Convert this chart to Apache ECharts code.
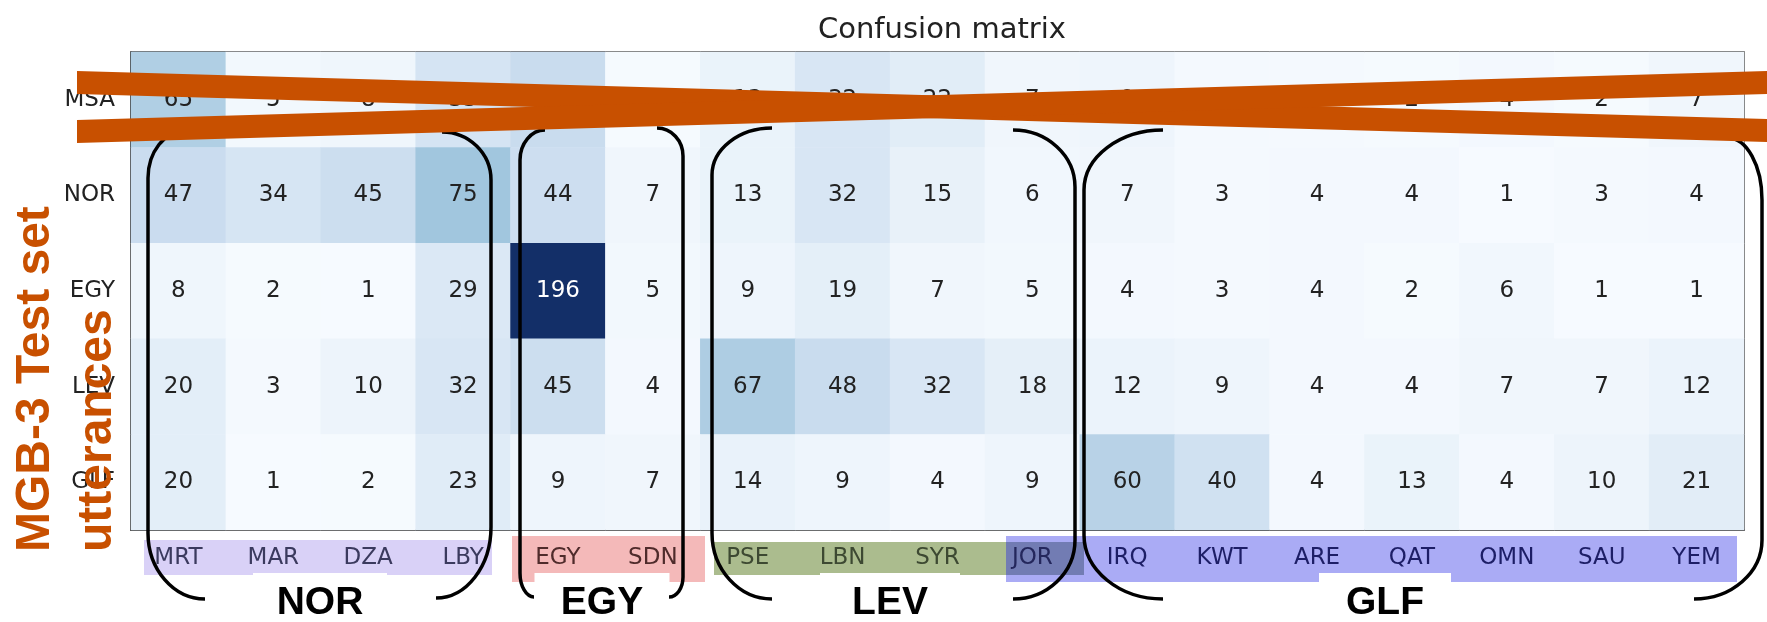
<!DOCTYPE html>
<html>
<head>
<meta charset="utf-8">
<script src="https://cdn.jsdelivr.net/npm/echarts@6/dist/echarts.min.js"></script>
<style>
  html, body { margin: 0; padding: 0; background: #fff; }
  #chart { width: 1767px; height: 622px; }
</style>
</head>
<body>
<div id="chart"></div>
<script>
// Predicted dialect (columns) and reference dialect (rows)
const predicted = ['MRT', 'MAR', 'DZA', 'LBY', 'EGY', 'SDN', 'PSE', 'LBN', 'SYR', 'JOR',
                   'IRQ', 'KWT', 'ARE', 'QAT', 'OMN', 'SAU', 'YEM'];
const actual = ['MSA', 'NOR', 'EGY', 'LEV', 'GLF'];

// Utterance counts per reference row
const rowMSA = [65, 5, 8, 35, 48, 2, 13, 32, 22, 7, 9, 3, 3, 2, 4, 2, 7];
const rowNOR = [47, 34, 45, 75, 44, 7, 13, 32, 15, 6, 7, 3, 4, 4, 1, 3, 4];
const rowEGY = [8, 2, 1, 29, 196, 5, 9, 19, 7, 5, 4, 3, 4, 2, 6, 1, 1];
const rowLEV = [20, 3, 10, 32, 45, 4, 67, 48, 32, 18, 12, 9, 4, 4, 7, 7, 12];
const rowGLF = [20, 1, 2, 23, 9, 7, 14, 9, 4, 9, 60, 40, 4, 13, 4, 10, 21];

// Region each predicted label belongs to (JOR sits where LEV and GLF overlap)
const labelRegion = ['nor', 'nor', 'nor', 'nor', 'egy', 'egy', 'lev', 'lev', 'lev', 'jor',
                     'glf', 'glf', 'glf', 'glf', 'glf', 'glf', 'glf'];
const regionNames = ['NOR', 'EGY', 'LEV', 'GLF'];
const titleText = 'Confusion matrix';
const axisTitleLines = ['MGB-3 Test set', 'utterances'];

const rows = [rowMSA, rowNOR, rowEGY, rowLEV, rowGLF];
const maxVal = Math.max(...rows.flat());
const cells = [];
rows.forEach((row, r) => {
  row.forEach((v, c) => {
    cells.push({
      value: [c, r, v],
      label: { color: v > maxVal / 2 ? '#ffffff' : '#222222' }
    });
  });
});

const chart = echarts.init(document.getElementById('chart'));

// Parenthesis-shaped outline: top end, vertical x, vertical span, bottom end
const K = 0.552;
const bracketStyle = { stroke: '#000', lineWidth: 3.5, fill: 'none' };
function bracketParts(top, xv, y1, y2, bot) {
  return [
    { type: 'bezierCurve', z: 50,
      shape: { x1: top[0], y1: top[1], x2: xv, y2: y1,
               cpx1: top[0] - K * (top[0] - xv), cpy1: top[1],
               cpx2: xv, cpy2: y1 - K * (y1 - top[1]) },
      style: bracketStyle },
    { type: 'line', z: 50, shape: { x1: xv, y1: y1, x2: xv, y2: y2 }, style: bracketStyle },
    { type: 'bezierCurve', z: 50,
      shape: { x1: xv, y1: y2, x2: bot[0], y2: bot[1],
               cpx1: xv, cpy1: y2 + K * (bot[1] - y2),
               cpx2: bot[0] - K * (bot[0] - xv), cpy2: bot[1] },
      style: bracketStyle }
  ];
}
const brackets = [
  [[185, 131], 148, 178, 533, [205, 599]],
  [[442, 132], 491, 180, 527, [436, 598]],
  [[545, 130], 520, 160, 573, [534, 597]],
  [[657, 128], 683, 156, 577, [669, 597]],
  [[772, 128], 712, 175, 533, [772, 599]],
  [[1013, 130], 1075, 187, 540, [1013, 599]],
  [[1163, 130], 1084, 190, 535, [1163, 599]],
  [[1728, 138], 1762, 200, 540, [1694, 599]]
];

const graphics = [];
// Coloured highlight strips behind the predicted labels
[
  [144, 540, 348, 35, '#d9d1f7'],
  [512, 536, 193, 46, '#f4b9b9'],
  [714, 542, 292, 33, '#abbc8e'],
  [1006, 536, 731, 46, '#aaabf5'],
  [1006, 542, 78, 33, '#727cb3']
].forEach(b => graphics.push({
  type: 'rect', z: -5,
  shape: { x: b[0], y: b[1], width: b[2], height: b[3] },
  style: { fill: b[4] }
}));
// Region names under the strips
[[320, 603, 134], [602, 603, 135], [890, 603, 140], [1385, 603, 132]].forEach((g, i) => {
  graphics.push({
    type: 'rect', z: 1,
    shape: { x: g[0] - g[2] / 2, y: 573, width: g[2], height: 49 },
    style: { fill: '#ffffff' }
  });
  graphics.push({
    type: 'text', z: 2, x: g[0], y: g[1],
    style: {
      text: regionNames[i], fill: '#000', font: 'bold 39px "Liberation Sans", Arial, sans-serif',
      textAlign: 'center', textVerticalAlign: 'middle'
    }
  });
});
brackets.forEach(b => graphics.push(...bracketParts(b[0], b[1], b[2], b[3], b[4])));
// Rotated vertical axis title
[[36, axisTitleLines[0]], [98, axisTitleLines[1]]].forEach(t => graphics.push({
  type: 'text', z: 60, x: t[0], y: 552, rotation: Math.PI / 2,
  style: {
    text: t[1], fill: '#c85000', font: 'bold 48px "Liberation Sans", Arial, sans-serif',
    textAlign: 'left', textVerticalAlign: 'middle'
  }
}));
// Strike-through cross over the MSA row
graphics.push({
  type: 'polygon', z: 100,
  shape: { points: [[77, 71], [1800, 120], [1800, 143], [77, 94]] },
  style: { fill: '#c85000' }
});
graphics.push({
  type: 'polygon', z: 100,
  shape: { points: [[77, 120], [1800, 70], [1800, 93], [77, 143]] },
  style: { fill: '#c85000' }
});

const richStyles = {};
const regionColors = { nor: '#3b3a5e', egy: '#4f2b2b', lev: '#3d4932', jor: '#24275c', glf: '#1d1e66' };
Object.keys(regionColors).forEach(k => {
  richStyles[k] = { color: regionColors[k], fontSize: 23, fontFamily: 'DejaVu Sans' };
});

chart.setOption({
  animation: false,
  backgroundColor: '#ffffff',
  title: {
    text: titleText,
    left: 937, top: 11, textAlign: 'center',
    textStyle: { fontFamily: 'DejaVu Sans', fontWeight: 'normal', fontSize: 29, color: '#222' }
  },
  grid: {
    left: 131, right: 23, top: 52, bottom: 92,
    show: true, borderColor: '#333', borderWidth: 1.5, backgroundColor: 'transparent'
  },
  xAxis: {
    type: 'category', data: predicted,
    axisLine: { lineStyle: { color: '#333', width: 1.5 } },
    axisTick: { alignWithLabel: true, length: 8, lineStyle: { color: '#333', width: 1.5 } },
    axisLabel: {
      margin: 17, interval: 0,
      formatter: (v, i) => '{' + labelRegion[i] + '|' + v + '}',
      rich: richStyles
    },
    splitLine: { show: false }
  },
  yAxis: {
    type: 'category', data: actual, inverse: true,
    axisLine: { lineStyle: { color: '#333', width: 1.5 } },
    axisTick: { alignWithLabel: true, length: 8, lineStyle: { color: '#333', width: 1.5 } },
    axisLabel: { margin: 16, fontSize: 23, fontFamily: 'DejaVu Sans', color: '#222' },
    splitLine: { show: false }
  },
  visualMap: {
    show: false, min: 0, max: maxVal, dimension: 2,
    inRange: { color: ['#f7fbff', '#dfebf6', '#c8dbee', '#a4c8df', '#6fadd3', '#4490c3', '#2470b1', '#0b5097', '#132f68'] }
  },
  series: [{
    type: 'heatmap',
    data: cells,
    label: { show: true, fontSize: 23, fontFamily: 'DejaVu Sans', formatter: p => p.value[2] },
    itemStyle: { borderWidth: 0 },
    emphasis: { disabled: true }
  }],
  graphic: graphics
});
</script>
</body>
</html>
